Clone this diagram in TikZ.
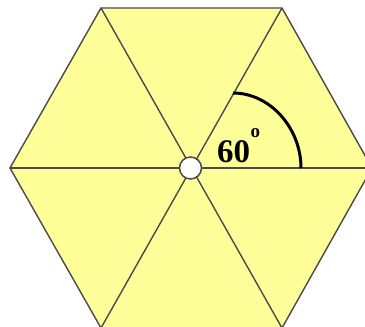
\documentclass[tikz,border=0pt]{standalone}
\usepackage{fontspec}
\setmainfont{Liberation Serif}
\definecolor{hexfill}{HTML}{FFFF99}
\definecolor{edgegray}{HTML}{4A4A4A}
\tikzset{
  edge/.style={draw=edgegray, line width=1.4pt},
  hub/.style={circle, draw=edgegray, fill=white, line width=1.5pt, minimum size=22pt, inner sep=0pt},
  anglearc/.style={draw=black, line width=3pt},
  lbl/.style={font=\bfseries\fontsize{33}{33}\selectfont, inner sep=0pt, text=black}
}
\begin{document}
\begin{tikzpicture}[x=1pt,y=-1pt]
\useasboundingbox (0,0) rectangle (365,327);
\coordinate (C) at (190.5,168);
\coordinate (L) at (10,168);
\coordinate (TL) at (101,8);
\coordinate (TR) at (282,8);
\coordinate (R) at (372,168);
\coordinate (BR) at (282,328);
\coordinate (BL) at (101,328);
\fill[hexfill] (L) -- (TL) -- (TR) -- (R) -- (BR) -- (BL) -- cycle;
\draw[edge] (L) -- (TL) -- (TR) -- (R) -- (BR) -- (BL) -- cycle;
\draw[edge] (L) -- (R);
\draw[edge] (TL) -- (BR);
\draw[edge] (TR) -- (BL);
\coordinate (A0) at (233,93);
\coordinate (A1) at (301,168);
\draw[anglearc] (A0) .. controls (270,93) and (301,128) .. (A1);
\node[lbl, anchor=base west] (t) at (217,162) {60};
\node[lbl, font=\bfseries\fontsize{19}{19}\selectfont, anchor=base west] (o) at (250.5,137) {o};
\node[hub] (h) at (C) {};
\end{tikzpicture}
\end{document}
